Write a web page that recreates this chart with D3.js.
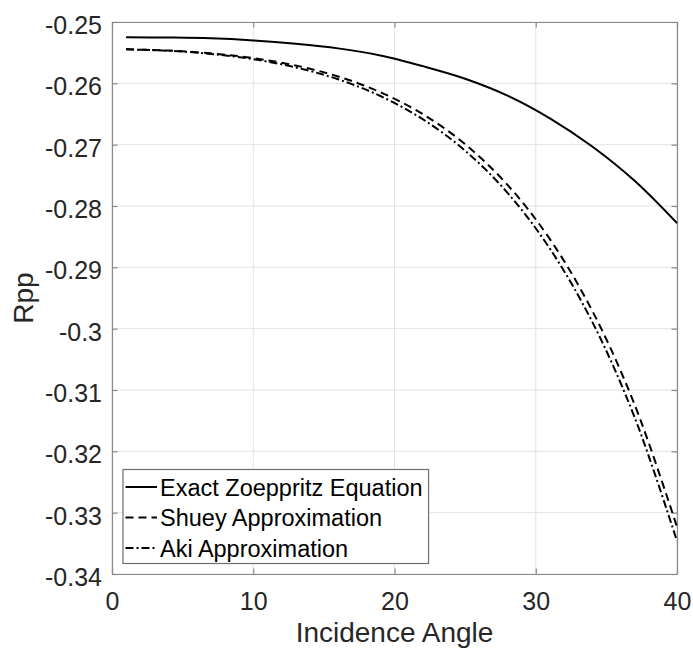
<!DOCTYPE html>
<html>
<head>
<meta charset="utf-8">
<script src="https://cdn.jsdelivr.net/npm/d3@7/dist/d3.min.js"></script>
<style>
  html, body { margin: 0; padding: 0; background: #fff; }
  svg { display: block; }
  text { font-family: "Liberation Sans", Arial, Helvetica, sans-serif; }
</style>
</head>
<body>
<svg id="chart" width="693" height="651"></svg>
<script>
// ---- data ----
const angles = [1, 4, 7, 10, 13, 16, 19, 22, 25, 28, 31, 34, 37, 40];
const exactZoeppritz = [-0.25250, -0.25253, -0.25265, -0.25300, -0.25355, -0.25430, -0.25545, -0.25720, -0.25925, -0.26200, -0.26570, -0.27030, -0.27590, -0.28280];
const shueyApprox    = [-0.25446, -0.25466, -0.25511, -0.25589, -0.25709, -0.25888, -0.26144, -0.26501, -0.26992, -0.27655, -0.28540, -0.29708, -0.31238, -0.33232];
const akiApprox      = [-0.25446, -0.25469, -0.25520, -0.25607, -0.25740, -0.25934, -0.26207, -0.26585, -0.27098, -0.27785, -0.28695, -0.29889, -0.31445, -0.33464];
const seriesNames = ["Exact Zoeppritz Equation", "Shuey Approximation", "Aki Approximation"];
const xTicks = [0, 10, 20, 30, 40];
const xTickLabels = ["0", "10", "20", "30", "40"];
const yTicks = [-0.25, -0.26, -0.27, -0.28, -0.29, -0.3, -0.31, -0.32, -0.33, -0.34];
const yTickLabels = ["-0.25", "-0.26", "-0.27", "-0.28", "-0.29", "-0.3", "-0.31", "-0.32", "-0.33", "-0.34"];
const xLabel = "Incidence Angle";
const yLabel = "Rpp";

// ---- layout ----
const svg = d3.select("#chart");
const m = { left: 112, top: 22, right: 16, bottom: 77 };
const W = 693 - m.left - m.right;   // 565
const H = 651 - m.top - m.bottom;   // 552

const x = d3.scaleLinear().domain([0, 40]).range([0, W]);
const y = d3.scaleLinear().domain([-0.25, -0.34]).range([0, H]);

const g = svg.append("g").attr("transform", `translate(${m.left},${m.top})`);

const axisColor = "#8a8a8a";
const textColor = "#262626";
const gridColor = "#e3e3e3";

// grid
g.append("g").selectAll("line").data(xTicks).join("line")
  .attr("x1", d => x(d)).attr("x2", d => x(d))
  .attr("y1", 0).attr("y2", H)
  .attr("stroke", gridColor).attr("stroke-width", 1);
g.append("g").selectAll("line").data(yTicks).join("line")
  .attr("x1", 0).attr("x2", W)
  .attr("y1", d => y(d)).attr("y2", d => y(d))
  .attr("stroke", gridColor).attr("stroke-width", 1);

// axes using d3 axis (inward ticks)
const tl = 5.5;
const xAxisB = d3.axisBottom(x).tickValues(xTicks).tickSizeInner(-tl).tickSizeOuter(0)
  .tickFormat((d, i) => xTickLabels[i]).tickPadding(14);
const xAxisT = d3.axisTop(x).tickValues(xTicks).tickSizeInner(-tl).tickSizeOuter(0).tickFormat("");
const yAxisL = d3.axisLeft(y).tickValues(yTicks).tickSizeInner(-tl).tickSizeOuter(0)
  .tickFormat((d, i) => yTickLabels[i]).tickPadding(16);
const yAxisR = d3.axisRight(y).tickValues(yTicks).tickSizeInner(-tl).tickSizeOuter(0).tickFormat("");

function styleAxis(sel) {
  sel.select(".domain").attr("stroke", axisColor).attr("stroke-width", 1.2);
  sel.selectAll(".tick line").attr("stroke", axisColor).attr("stroke-width", 1.2);
  sel.selectAll(".tick text").attr("fill", textColor)
    .style("font-family", '"Liberation Sans", Arial, sans-serif').style("font-size", "25px");
}
const gxb = g.append("g").attr("transform", `translate(0,${H})`).call(xAxisB).call(styleAxis);
gxb.selectAll(".tick text").attr("dy", "0.71em").attr("y", 18);
g.append("g").call(xAxisT).call(styleAxis);
const gyl = g.append("g").call(yAxisL).call(styleAxis);
gyl.selectAll(".tick text").attr("dy", "0.46em").attr("x", -10);
g.append("g").attr("transform", `translate(${W},0)`).call(yAxisR).call(styleAxis);

// lines
const seriesData = [exactZoeppritz, shueyApprox, akiApprox];
const dashes = [null, "8,5", "8,3,2,3"];
const line = d3.line().x(d => x(d[0])).y(d => y(d[1])).curve(d3.curveCatmullRom.alpha(0.5));
seriesData.forEach((vals, i) => {
  g.append("path")
    .datum(angles.map((a, j) => [a, vals[j]]))
    .attr("d", line)
    .attr("fill", "none")
    .attr("stroke", "#000")
    .attr("stroke-width", 2)
    .attr("stroke-dasharray", dashes[i]);
});

// axis titles
svg.append("text")
  .attr("x", m.left + W / 2).attr("y", 642)
  .attr("text-anchor", "middle").attr("fill", textColor)
  .style("font-size", "28px").text(xLabel);
svg.append("text")
  .attr("transform", `translate(33,${m.top + H / 2}) rotate(-90)`)
  .attr("text-anchor", "middle").attr("fill", textColor)
  .style("font-size", "28px").text(yLabel);

// legend
const lg = svg.append("g");
const lx = 123, ly = 469.5, rowH = 30.5;
const box = lg.append("rect")
  .attr("x", lx).attr("y", ly).attr("height", 94)
  .attr("fill", "#fff").attr("stroke", "#6e6e6e").attr("stroke-width", 1.2);
let maxW = 0;
seriesNames.forEach((name, i) => {
  const cy = ly + 17.5 + i * rowH;
  lg.append("line")
    .attr("x1", lx + 2.5).attr("x2", lx + 34)
    .attr("y1", cy).attr("y2", cy)
    .attr("stroke", "#000").attr("stroke-width", 2)
    .attr("stroke-dasharray", dashes[i]);
  const t = lg.append("text")
    .attr("x", lx + 37).attr("y", cy + 8.5)
    .attr("fill", "#000").style("font-size", "23.5px").text(name);
  maxW = Math.max(maxW, t.node().getComputedTextLength());
});
box.attr("width", 37 + maxW + 6);
</script>
</body>
</html>
